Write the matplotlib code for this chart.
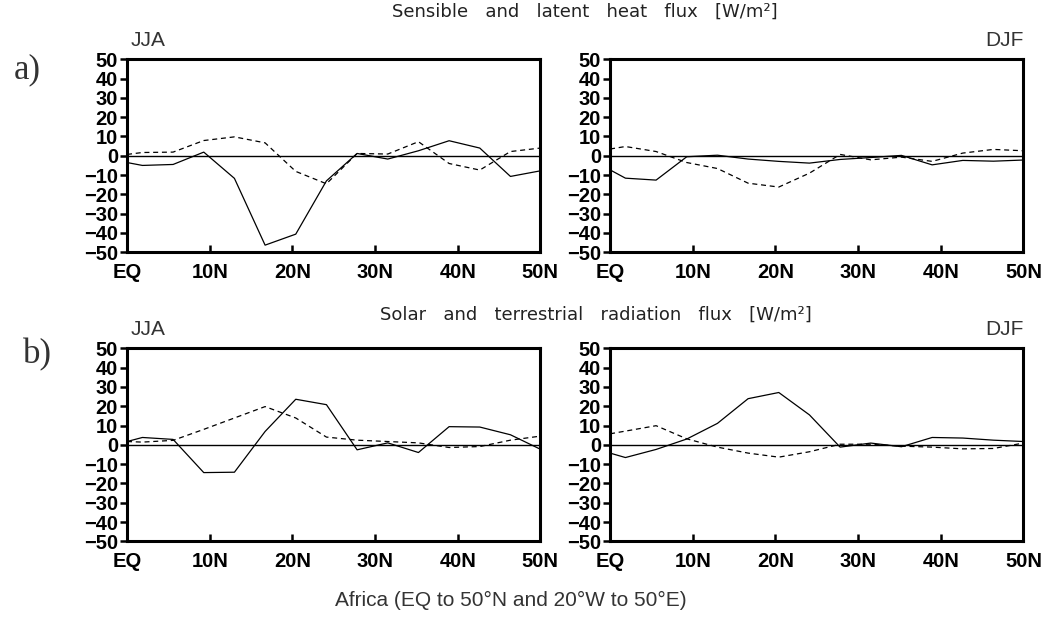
import matplotlib
matplotlib.use("Agg")
import matplotlib.pyplot as plt

# latitudes of the model grid points (EQ..50N)
lat = [0, 1.86, 5.57, 9.28, 12.99, 16.70, 20.41, 24.12, 27.83, 31.54, 35.25, 38.96, 42.67, 46.38, 50]

# a) sensible (solid) and latent (dashed) heat flux
heat_jja_solid = [-3.5, -5, -4.5, 1.9, -11.7, -46.3, -40.6, -13, 1.2, -1.7, 2.6, 7.8, 4, -10.7, -7.8]
heat_jja_dash = [0.7, 1.7, 1.9, 7.9, 9.8, 6.7, -8.1, -14.5, 1.2, 0.9, 7.3, -4, -7.4, 2.2, 4]
heat_djf_solid = [-7.3, -11.6, -12.6, -0.5, 0.3, -1.7, -2.9, -3.8, -1.9, -0.9, 0.2, -4.7, -2.4, -2.8, -2.2]
heat_djf_dash = [3.5, 4.8, 2.2, -3.5, -6.6, -14.2, -16.2, -9, 0.7, -2.1, -0.7, -2.9, 1.4, 3.3, 2.6]

# b) solar (solid) and terrestrial (dashed) radiation flux
rad_jja_solid = [1.7, 3.8, 2.8, -14.4, -14.2, 6.9, 23.6, 20.8, -2.6, 1, -4, 9.4, 9.2, 5.2, -2.3]
rad_jja_dash = [1.7, 1.4, 2.3, 8, 13.9, 19.8, 13.9, 4, 2.4, 1.7, 1, -1.4, -0.9, 2.4, 4.5]
rad_djf_solid = [-4.3, -6.6, -2.4, 3, 11.1, 23.9, 27.1, 15.5, -1.2, 0.9, -1, 3.8, 3.5, 2.4, 1.7]
rad_djf_dash = [5.7, 7.1, 9.9, 3.1, -1.2, -4.3, -6.4, -3.6, 0.3, 0.3, -0.7, -1.2, -2.1, -1.9, 0.9]

xticks = [0, 10, 20, 30, 40, 50]
xlabels = ["EQ", "10N", "20N", "30N", "40N", "50N"]
yticks = list(range(-50, 51, 10))

tickfont = ['Liberation Sans', 'DejaVu Sans']
grey = '#333333'

fig = plt.figure(figsize=(10.43, 6.26), dpi=100)


def panel(rect, solid, dash, season, right=False):
    ax = fig.add_axes(rect)
    ax.plot(lat, solid, color='k', lw=0.9)
    ax.plot(lat, dash, color='k', lw=0.9, dashes=(4, 3))
    ax.axhline(0, color='k', lw=1.0)
    ax.set_xlim(0, 50)
    ax.set_ylim(-50, 50)
    ax.set_xticks(xticks)
    ax.set_xticklabels(xlabels)
    ax.set_yticks(yticks)
    ax.set_yticklabels([str(v).replace('-', '\u2212') for v in yticks])
    for s in ax.spines.values():
        s.set_linewidth(2.2)
    ax.tick_params(axis='y', direction='out', length=5, width=1.8, pad=1.5)
    ax.tick_params(axis='x', direction='in', length=5, width=1.8, pad=8)
    for lbl in ax.get_xticklabels() + ax.get_yticklabels():
        lbl.set_family(tickfont)
        lbl.set_fontsize(14.5)
        lbl.set_fontweight('bold')
    if right:
        ax.text(1.0, 1.05, season, transform=ax.transAxes, ha='right', va='bottom',
                fontsize=15, family='Liberation Sans', color=grey)
    else:
        ax.text(0.008, 1.05, season, transform=ax.transAxes, ha='left', va='bottom',
                fontsize=15, family='Liberation Sans', color=grey)
    return ax


top_a, top_b, h = 0.597, 0.1353, 0.3083
lx, rx, w = 0.1218, 0.5849, 0.3963

panel([lx, top_a, w, h], heat_jja_solid, heat_jja_dash, "JJA")
panel([rx, top_a, w, h], heat_djf_solid, heat_djf_dash, "DJF", right=True)
panel([lx, top_b, w, h], rad_jja_solid, rad_jja_dash, "JJA")
panel([rx, top_b, w, h], rad_djf_solid, rad_djf_dash, "DJF", right=True)

fig.text(585 / 1043, 1 - 12 / 626, "Sensible   and   latent   heat   flux   [W/m\u00b2]",
         ha='center', va='center', fontsize=13, family='DejaVu Sans', color='#222222')
fig.text(596 / 1043, 1 - 315 / 626, "Solar   and   terrestrial   radiation   flux   [W/m\u00b2]",
         ha='center', va='center', fontsize=13, family='DejaVu Sans', color='#222222')

fig.text(27 / 1043, 1 - 70 / 626, "a)", ha='center', va='center', fontsize=25,
         family='Liberation Serif', color=grey)
fig.text(37 / 1043, 1 - 355 / 626, "b)", ha='center', va='center', fontsize=25,
         family='Liberation Serif', color=grey)

fig.text(511 / 1043, 1 - 600 / 626, "Africa (EQ to 50\u00b0N and 20\u00b0W to 50\u00b0E)",
         ha='center', va='center', fontsize=15, family='Liberation Sans', color=grey)

fig.savefig("out.png", dpi=100)
